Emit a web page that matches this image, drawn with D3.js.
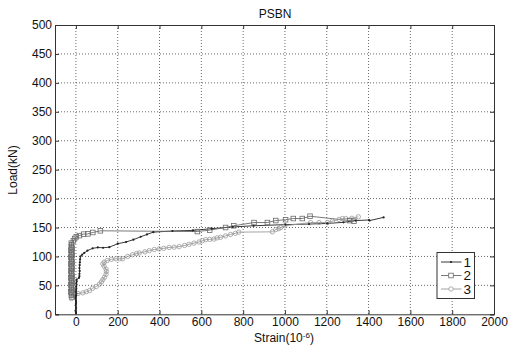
<!DOCTYPE html>
<html><head><meta charset="utf-8">
<script src="https://cdn.jsdelivr.net/npm/d3@7"></script>
<style>body{margin:0;background:#fff}text{font-family:"Liberation Sans",Arial,sans-serif}</style>
</head><body><svg id="c" width="516" height="345"></svg>
<script>
const xTicks=[0,200,400,600,800,1000,1200,1400,1600,1800,2000];
const yTicks=[0,50,100,150,200,250,300,350,400,450,500];
const seriesNames=["1","2","3"];
const s1=[[0,0],[0,3],[-2,6],[0,9],[1,12],[-1,15],[0,18],[1,21],[0,24],[-1,27],[0,30],[1,33],[2,36],[0,39],[1,42],[2,45],[1,48],[3,51],[2,54],[4,57],[3,60],[15,63],[17,66],[17,70],[18,75],[17,80],[18,85],[19,90],[20,95],[22,100],[30,103],[40,106],[55,110],[80,114],[105,115.5],[130,115],[160,116],[200,122],[240,125],[275,129],[310,134],[340,138],[370,142],[462,144],[560,145],[650,148],[750,151],[850,153],[1003,155],[1115,156],[1203,157],[1280,159],[1338,162],[1402,163],[1405,162],[1472,167.5]];
const s2=[[-18,30],[-22,33],[-19,36],[-24,39],[-18,42],[-22,45],[-20,48],[-24,51],[-18,54],[-22,57],[-19,60],[-24,63],[-18,66],[-22,69],[-20,72],[-24,75],[-18,78],[-22,81],[-19,84],[-24,87],[-18,90],[-22,93],[-20,96],[-24,99],[-18,102],[-22,105],[-19,108],[-24,111],[-18,114],[-22,117],[-20,120],[-22,123],[-12,127],[-6,131],[2,134],[17,136],[37,138.5],[57,139],[81,141.4],[117,144.3],[581,143],[640,145.5],[716,150],[755,153],[852,158.6],[916,158.6],[956,162],[1003,163.5],[1040,165.5],[1083,165.5],[1120,169.5],[1310,162],[1330,161]];
const s3=[[-22,27],[-6,34],[10,36],[33,37],[50,39],[65,41],[80,45],[97,48],[113,52],[122,56],[129,60],[137,64],[144,69],[146,74],[144,78],[135,83],[129,87],[135,90],[150,93],[170,95],[192,96],[210,96],[224,96],[248,100],[271,103],[290,105],[303,106],[330,108],[351,110],[375,112],[398,113],[420,114],[446,115.5],[470,116],[494,117],[520,119],[541,121],[565,123],[589,125],[605,127],[621,129],[640,129.5],[660,130],[675,132],[692,133],[716,135.5],[740,138],[763,140],[779,142],[940,142.5],[956,146.5],[970,148],[980,150],[1000,153],[1123,158.6],[1163,158.6],[1203,158.6],[1227,161],[1259,164],[1275,165.5],[1291,165.5],[1320,166],[1351,168.5]];

const svg=d3.select("#c");
const L=55,R=494,T=25,B=314.3;
const x=d3.scaleLinear().domain([-100,2000]).range([L,R]);
const y=d3.scaleLinear().domain([0,500]).range([B,T]);
const fmt=d3.format("d");

// grid
const g=svg.append("g");
g.selectAll(".vg").data(xTicks.filter(v=>v<2000)).join("line")
 .attr("x1",d=>x(d)).attr("x2",d=>x(d)).attr("y1",T).attr("y2",B)
 .attr("stroke","#444").attr("stroke-width",0.8).attr("stroke-dasharray","1,2");
g.selectAll(".hg").data(yTicks.filter(v=>v>0&&v<500)).join("line")
 .attr("x1",L).attr("x2",R).attr("y1",d=>y(d)).attr("y2",d=>y(d))
 .attr("stroke","#444").attr("stroke-width",0.8).attr("stroke-dasharray","1,2");

// axes
svg.append("g").attr("transform",`translate(0,${B})`)
 .call(d3.axisBottom(x).tickValues(xTicks).tickFormat(fmt).tickSize(-4).tickPadding(3));
svg.append("g").attr("transform",`translate(${L},0)`)
 .call(d3.axisLeft(y).tickValues(yTicks).tickFormat(fmt).tickSize(-4).tickPadding(3));
svg.append("g").attr("transform",`translate(0,${T})`)
 .call(d3.axisTop(x).tickValues(xTicks).tickSize(-4).tickFormat(""));
svg.append("g").attr("transform",`translate(${R},0)`)
 .call(d3.axisRight(y).tickValues(yTicks).tickSize(-4).tickFormat(""));
svg.selectAll(".domain").attr("stroke","#333");
svg.selectAll(".tick line").attr("stroke","#333");
svg.selectAll(".tick text").attr("font-size",12).attr("fill","#111").style("font-family","'Liberation Sans',Arial,sans-serif");

// series
const line=d3.line().x(d=>x(d[0])).y(d=>y(d[1]));
const cols=["#222","#6a6a6a","#9a9a9a"];
svg.append("clipPath").attr("id","cp").append("rect").attr("x",L).attr("y",T).attr("width",R-L).attr("height",B-T);
const plot=svg.append("g").attr("clip-path","url(#cp)");
[s1,s2,s3].forEach((s,i)=>{
 plot.append("path").datum(s).attr("d",line).attr("fill","none").attr("stroke",cols[i]).attr("stroke-width",0.9);
});
plot.selectAll(".m3").data(s3).join("circle").attr("cx",d=>x(d[0])).attr("cy",d=>y(d[1])).attr("r",2.2)
 .attr("fill","none").attr("stroke",cols[2]).attr("stroke-width",0.8);
plot.selectAll(".m2").data(s2).join("rect").attr("x",d=>x(d[0])-2.3).attr("y",d=>y(d[1])-2.3).attr("width",4.6).attr("height",4.6)
 .attr("fill","none").attr("stroke",cols[1]).attr("stroke-width",0.8);
plot.selectAll(".m1").data(s1).join("circle").attr("cx",d=>x(d[0])).attr("cy",d=>y(d[1])).attr("r",1.1)
 .attr("fill",cols[0]);

// legend
const lg=svg.append("g");
lg.append("rect").attr("x",437).attr("y",252.5).attr("width",37.5).attr("height",46).attr("fill","#fff").attr("stroke","#333").attr("stroke-width",1);
const ly=[262,275.5,289];
seriesNames.forEach((n,i)=>{
 lg.append("line").attr("x1",441).attr("x2",461.5).attr("y1",ly[i]).attr("y2",ly[i]).attr("stroke",cols[i]).attr("stroke-width",0.9);
 if(i===0) lg.append("circle").attr("cx",451).attr("cy",ly[i]).attr("r",1.1).attr("fill",cols[0]);
 if(i===1) lg.append("rect").attr("x",451-2.3).attr("y",ly[i]-2.3).attr("width",4.6).attr("height",4.6).attr("fill","#fff").attr("stroke",cols[1]).attr("stroke-width",0.8);
 if(i===2) lg.append("circle").attr("cx",451).attr("cy",ly[i]).attr("r",2.2).attr("fill","#fff").attr("stroke",cols[2]).attr("stroke-width",0.8);
 lg.append("text").attr("x",463.5).attr("y",ly[i]+4.5).attr("font-size",13.5).attr("fill","#111").text(n);
});

// titles
svg.append("text").attr("x",275).attr("y",18).attr("text-anchor","middle").attr("font-size",12).attr("fill","#111").text("PSBN");
svg.append("text").attr("transform","translate(17,170) rotate(-90)").attr("text-anchor","middle").attr("font-size",12).attr("fill","#111").text("Load(kN)");
const xl=svg.append("text").attr("x",284).attr("y",342).attr("text-anchor","middle").attr("font-size",12).attr("fill","#111");
xl.append("tspan").text("Strain(10");
xl.append("tspan").attr("dy",-4).attr("font-size",8).text("-6");
xl.append("tspan").attr("dy",4).text(")");
</script></body></html>
